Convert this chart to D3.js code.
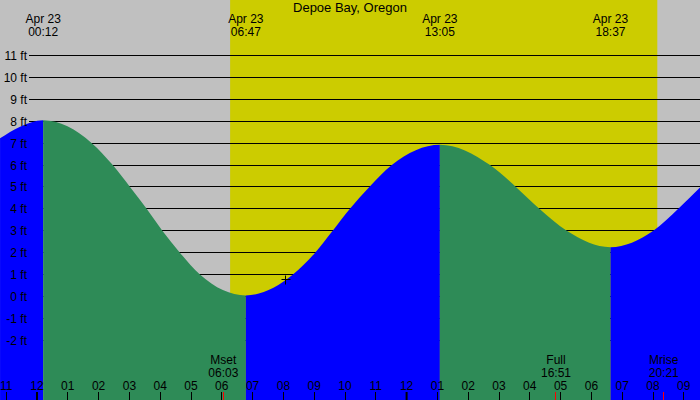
<!DOCTYPE html>
<html>
<head>
<meta charset="utf-8">
<script src="https://cdn.jsdelivr.net/npm/d3@7"></script>
<style>
  html, body { margin: 0; padding: 0; background: #c0c0c0; }
  svg { display: block; }
  text { font-family: "Liberation Sans", Arial, sans-serif; font-size: 12px; fill: #000; }
  text.title { font-size: 13px; }
</style>
</head>
<body>
<svg id="chart" width="700" height="400"></svg>
<script>
// ---- data ----
const title = "Depoe Bay, Oregon";
const dateLabel = "Apr 23";
// tide curve readings (hours after midnight Apr 23, feet)
const tideHours   = [-1.20, -0.55, 0.20, 1.78, 2.46, 3.02, 3.56, 4.07, 4.64, 5.29, 6.78, 8.31, 9.03, 9.60, 10.16, 10.79, 11.52, 13.08, 14.71, 15.55, 16.31, 17.20, 18.62, 20.01, 20.82, 21.53];
const tideHeights = [7.22, 7.75, 8.04, 7, 6, 5, 4, 3, 2, 1, 0.05, 1, 2, 3, 4, 5, 6, 6.93, 6, 5, 4, 3, 2.25, 3, 4, 4.98];
// high / low tide events
const extremeHours  = [0.20, 6.78, 13.08, 18.62];
const extremeLabels = ["00:12", "06:47", "13:05", "18:37"];
const extremeTypes  = ["high", "low", "high", "low"];
// sun
const sunriseHour = 6.27, sunsetHour = 20.14;
// moon events
const moonNames  = ["Mset", "Full", "Mrise"];
const moonLabels = ["06:03", "16:51", "20:21"];
const moonHours  = [6.05, 16.85, 20.35];
// axis
const hourTicks  = [-1, 0, 1, 2, 3, 4, 5, 6, 7, 8, 9, 10, 11, 12, 13, 14, 15, 16, 17, 18, 19, 20, 21];
const hourLabels = ["11","12","01","02","03","04","05","06","07","08","09","10","11","12","01","02","03","04","05","06","07","08","09"];
const ftTicks = [11, 10, 9, 8, 7, 6, 5, 4, 3, 2, 1, 0, -1, -2];

// ---- scales ----
const W = 700, H = 400;
const x = d3.scaleLinear().domain([0, 21]).range([37, 37 + 21 * 30.8]);
const y = d3.scaleLinear().domain([0, 11]).range([296.5, 55.5]);

const svg = d3.select("#chart");

// background night
svg.append("rect").attr("x", 0).attr("y", 0).attr("width", W).attr("height", H).attr("fill", "#c0c0c0");
// daylight
svg.append("rect").attr("x", x(sunriseHour)).attr("y", 0)
  .attr("width", x(sunsetHour) - x(sunriseHour)).attr("height", H).attr("fill", "#cccc00");

// grid lines
svg.append("g").selectAll("line").data(ftTicks).join("line")
  .attr("x1", 29).attr("x2", W)
  .attr("y1", d => Math.floor(y(d)) + 0.5).attr("y2", d => Math.floor(y(d)) + 0.5)
  .attr("stroke", "#000").attr("stroke-width", 1);

// tide area
const pts = tideHours.map((t, i) => [t, tideHeights[i]]);
const area = d3.area().x(d => x(d[0])).y0(H).y1(d => y(d[1])).curve(d3.curveMonotoneX);

// segments between extremes: rising = blue, falling = green
const bounds = [x.invert(-50)].concat(extremeHours).concat([x.invert(W + 50)]);
const defs = svg.append("defs");
const segs = [];
for (let i = 0; i < bounds.length - 1; i++) {
  const nextType = i < extremeTypes.length ? extremeTypes[i] : (extremeTypes[extremeTypes.length - 1] === "high" ? "low" : "high");
  segs.push({ a: bounds[i], b: bounds[i + 1], color: nextType === "high" ? "#0000ff" : "#2e8b57" });
}
segs.forEach((s, i) => {
  defs.append("clipPath").attr("id", "seg" + i).append("rect")
    .attr("x", x(s.a)).attr("y", 0).attr("width", x(s.b) - x(s.a)).attr("height", H);
  svg.append("path").datum(pts).attr("d", area).attr("fill", s.color)
    .attr("clip-path", "url(#seg" + i + ")");
});

// y labels
svg.append("g").selectAll("text").data(ftTicks).join("text")
  .attr("x", 27).attr("y", d => Math.floor(y(d)) + 5)
  .attr("text-anchor", "end").text(d => d + " ft");

// title
svg.append("text").attr("class", "title").attr("x", 350).attr("y", 12).attr("text-anchor", "middle").text(title);

// extreme labels at top
extremeHours.forEach((t, i) => {
  svg.append("text").attr("x", x(t)).attr("y", 22.5).attr("text-anchor", "middle").text(dateLabel);
  svg.append("text").attr("x", x(t)).attr("y", 36).attr("text-anchor", "middle").text(extremeLabels[i]);
});

// hour ticks
svg.append("g").selectAll("line").data(hourTicks).join("line")
  .attr("x1", d => (d % 12 === 0) ? x(d) : Math.floor(x(d)) + 0.5)
  .attr("x2", d => (d % 12 === 0) ? x(d) : Math.floor(x(d)) + 0.5)
  .attr("y1", 392).attr("y2", H)
  .attr("stroke", "#000").attr("stroke-width", d => (d % 12 === 0) ? 2 : 1);
svg.append("g").selectAll("text").data(hourTicks).join("text")
  .attr("x", d => x(d)).attr("y", 390).attr("text-anchor", "middle")
  .text((d, i) => hourLabels[i]);

// moon events
moonHours.forEach((t, i) => {
  svg.append("line").attr("x1", Math.floor(x(t)) + 0.5).attr("x2", Math.floor(x(t)) + 0.5)
    .attr("y1", 392).attr("y2", H).attr("stroke", "#ff0000").attr("stroke-width", 1);
  svg.append("text").attr("x", x(t)).attr("y", 364).attr("text-anchor", "middle").text(moonNames[i]);
  svg.append("text").attr("x", x(t)).attr("y", 377).attr("text-anchor", "middle").text(moonLabels[i]);
});

// current-time marker
const nowHour = 8.08, nowHeight = 0.77;
const cx = Math.floor(x(nowHour)) + 0.5, cy = Math.floor(y(nowHeight)) + 0.5;
svg.append("line").attr("x1", cx - 4).attr("x2", cx + 5).attr("y1", cy).attr("y2", cy).attr("stroke", "#000");
svg.append("line").attr("x1", cx).attr("x2", cx).attr("y1", cy - 4).attr("y2", cy + 5).attr("stroke", "#000");
</script>
</body>
</html>
